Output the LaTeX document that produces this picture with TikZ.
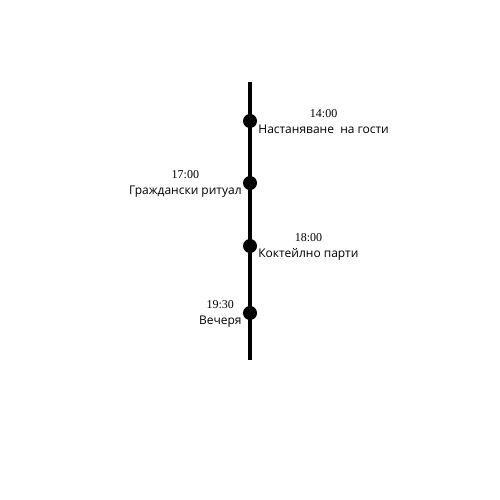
\documentclass[tikz,border=0pt]{standalone}
\usepackage{fontspec}
\setmainfont{Open Sans}
\newfontfamily\timefont{Liberation Serif}
\usetikzlibrary{positioning}
\tikzstyle{eventdot} = [circle, fill=black, inner sep=0pt, minimum size=14pt]
\tikzstyle{eventtext} = [align=center, inner sep=0pt, font=\fontsize{12}{16}\selectfont]
\tikzstyle{axis} = [line width=4pt, draw=black]

\begin{document}
\begin{tikzpicture}[x=1pt, y=-1pt]
    \useasboundingbox (0,0) rectangle (500,500);

    % Time axis
    \coordinate (top) at (250,82);
    \coordinate (bottom) at (250,360);
    \draw[axis] (top) -- (bottom);

    % Events
    \node[eventdot] (arrival) at (250,121) {};
    \node[eventdot] (ritual) at (250,183) {};
    \node[eventdot] (cocktail) at (250,246) {};
    \node[eventdot] (dinner) at (250,313) {};

    % Labels
    \node[eventtext, right=1pt of arrival, yshift=-1pt] (arrivallbl) {{\timefont 14:00}\\Настаняване\ \ на гости};
    \node[eventtext, left=1pt of ritual, yshift=-1pt] (rituallbl) {{\timefont 17:00}\\Граждански ритуал};
    \node[eventtext, right=1pt of cocktail, yshift=-1pt] (cocktaillbl) {{\timefont 18:00}\\Коктейлно парти};
    \node[eventtext, left=1pt of dinner, yshift=-1pt] (dinnerlbl) {{\timefont 19:30}\\Вечеря};
\end{tikzpicture}
\end{document}
